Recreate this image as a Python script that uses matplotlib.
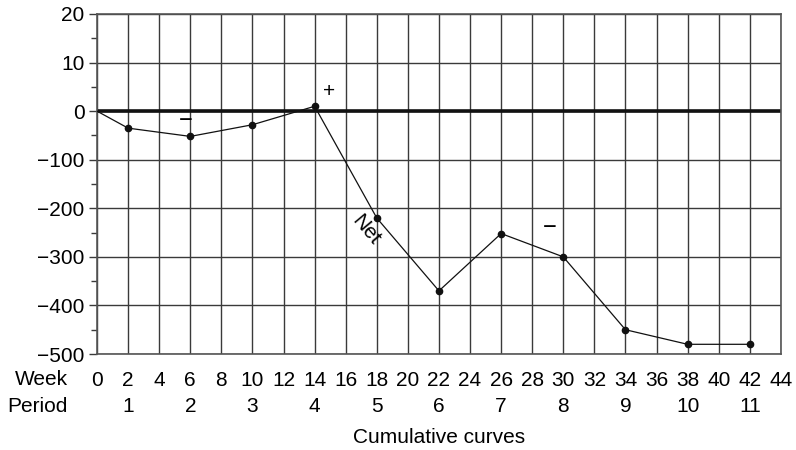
import numpy as np
import matplotlib
matplotlib.use("Agg")
import matplotlib.pyplot as plt
from matplotlib.transforms import blended_transform_factory

plt.rcParams['font.family'] = ['Liberation Sans', 'DejaVu Sans']

weeks = [0, 2, 6, 10, 14, 18, 22, 26, 30, 34, 38, 42]
net = [0, -35, -52, -28, 1, -220, -370, -252, -300, -450, -480, -480]
week_ticks = list(range(0, 45, 2))
period_weeks = [2, 6, 10, 14, 18, 22, 26, 30, 34, 38, 42]
period_labels = ['1', '2', '3', '4', '5', '6', '7', '8', '9', '10', '11']
y_major = [20, 10, 0, -100, -200, -300, -400, -500]
y_minor = [15, 5, -50, -150, -250, -350, -450]


def fwd(y):
    y = np.asarray(y, dtype=float)
    return np.where(y >= 0, y / 10.0, y / 100.0)


def inv(u):
    u = np.asarray(u, dtype=float)
    return np.where(u >= 0, u * 10.0, u * 100.0)


FS = 15

fig = plt.figure(figsize=(7.96, 4.5), dpi=100)
ax = fig.add_axes([0.1219, 0.2133, 0.8591, 0.7556])
ax.set_yscale('function', functions=(fwd, inv))
ax.set_xlim(0, 44)
ax.set_ylim(-500, 20)

grid_c = '#3a3a3a'
for w in week_ticks:
    ax.axvline(w, color=grid_c, lw=1.0, zorder=1)
for yv in y_major:
    ax.axhline(yv, color=grid_c, lw=1.0, zorder=1)
ax.axhline(0, color='#111111', lw=2.6, zorder=2)

ax.plot(weeks, net, color='#111111', lw=0.9, zorder=3)
ax.plot(weeks[1:], net[1:], 'o', color='#111111', ms=4.5, zorder=4)

ax.set_yticks(y_major)
ax.set_yticklabels([str(v).replace('-', '\u2212') for v in y_major])
ax.set_yticks(y_minor, minor=True)
ax.tick_params(axis='y', which='major', length=6, width=1.0, labelsize=FS, pad=3, color=grid_c)
ax.tick_params(axis='y', which='minor', length=4, width=1.0, color=grid_c)
ax.set_xticks(week_ticks)
ax.set_xticklabels([str(w) for w in week_ticks])
ax.tick_params(axis='x', which='both', length=0, labelsize=FS, pad=12)

for s in ax.spines.values():
    s.set_color('#555555')
    s.set_linewidth(1.2)

trans = blended_transform_factory(ax.transData, ax.transAxes)
for w, p in zip(period_weeks, period_labels):
    ax.text(w, -0.153, p, transform=trans, ha='center', va='center', fontsize=FS)

ax.text(-0.043, -0.074, 'Week', transform=ax.transAxes, ha='right', va='center', fontsize=FS)
ax.text(-0.043, -0.153, 'Period', transform=ax.transAxes, ha='right', va='center', fontsize=FS)
ax.text(0.5, -0.245, 'Cumulative curves', transform=ax.transAxes, ha='center', va='center', fontsize=FS)

ax.text(5.7, -20, '\u2212', ha='center', va='center', fontsize=FS + 2)
ax.text(14.9, 4, '+', ha='center', va='center', fontsize=FS)
ax.text(29.1, -240, '\u2212', ha='center', va='center', fontsize=FS + 2)
ax.text(17.3, -245, 'Net', ha='center', va='center', fontsize=FS, rotation=-50)

fig.savefig('out.png', dpi=100)
